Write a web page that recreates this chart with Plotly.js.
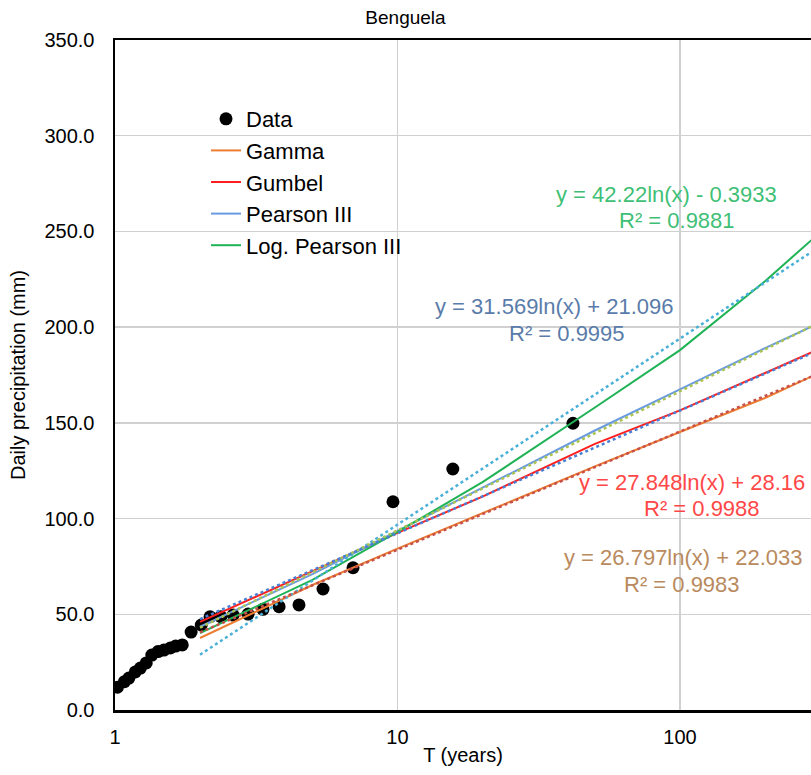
<!DOCTYPE html>
<html>
<head>
<meta charset="utf-8">
<script src="https://cdn.plot.ly/plotly-3.0.1.min.js"></script>
<style>html,body{margin:0;padding:0;background:#fff;}#chart{width:811px;height:775px;}</style>
</head>
<body>
<div id="chart"></div>
<script>
// Observed data (return period T, daily precipitation mm)
const dataT = [1.02, 1.08, 1.12, 1.18, 1.23, 1.29, 1.35, 1.42, 1.49, 1.57, 1.64, 1.73, 1.86, 2.02, 2.17, 2.37, 2.62, 2.96, 3.34, 3.81, 4.48, 5.45, 6.96, 9.64, 15.7, 41.8];
const dataP = [11.9, 14.8, 16.7, 19.9, 21.9, 24.6, 28.7, 30.5, 31.3, 32.4, 33.4, 34.0, 40.7, 44.4, 48.7, 48.7, 49.6, 50.1, 52.6, 54.0, 54.9, 63.2, 74.3, 108.8, 125.9, 149.8];

// Fitted distributions
const fitT = [2, 5, 10, 20, 50, 100, 200, 300];
const gammaP = [37.6, 65.3, 84.3, 102.8, 127.3, 145.2, 163.0, 175.0];
const gumbelP = [46.0, 72.5, 92.5, 111.5, 139.0, 156.5, 176.0, 187.5];
const pearsonP = [43.5, 71.0, 93.5, 116.0, 146.0, 167.5, 189.0, 201.0];
const logPearsonP = [40.2, 68.0, 93.0, 119.0, 158.0, 188.0, 224.0, 247.0];

// Logarithmic trendlines (end points)
const trendT = [2, 300];
const trendLogPearson = [28.9, 240.4];
const trendPearson = [43.0, 201.2];
const trendGumbel = [47.5, 187.0];
const trendGamma = [40.6, 174.9];

// Trendline labels
const labelLogPearson = ["y = 42.22ln(x) - 0.3933", "R² = 0.9881"];
const labelPearson = ["y = 31.569ln(x) + 21.096", "R² = 0.9995"];
const labelGumbel = ["y = 27.848ln(x) + 28.16", "R² = 0.9988"];
const labelGamma = ["y = 26.797ln(x) + 22.033", "R² = 0.9983"];

const yTicks = [0, 50, 100, 150, 200, 250, 300, 350];
const xTicks = [1, 10, 100];
const xTickText = ["1", "10", "100"];

const FONT = "Liberation Sans, Arial, sans-serif";

const traces = [
  {x: dataT, y: dataP, type: "scatter", mode: "markers", name: "Data", legendgroup: "a",
   marker: {color: "#000000", size: 13}},
  {x: fitT, y: gammaP, type: "scatter", mode: "lines", name: "Gamma", legendgroup: "b",
   line: {color: "#ed7d31", width: 2}},
  {x: fitT, y: gumbelP, type: "scatter", mode: "lines", name: "Gumbel", legendgroup: "c",
   line: {color: "#ff1f1f", width: 2}},
  {x: fitT, y: pearsonP, type: "scatter", mode: "lines", name: "Pearson III", legendgroup: "d",
   line: {color: "#6a9be0", width: 2}},
  {x: fitT, y: logPearsonP, type: "scatter", mode: "lines", name: "Log. Pearson III", legendgroup: "e",
   line: {color: "#1fb355", width: 2}},
  {x: trendT, y: trendLogPearson, type: "scatter", mode: "lines", showlegend: false,
   line: {color: "#4bb0d8", width: 2.5, dash: "dot"}},
  {x: trendT, y: trendPearson, type: "scatter", mode: "lines", showlegend: false,
   line: {color: "#a9c452", width: 2.5, dash: "dot"}},
  {x: trendT, y: trendGumbel, type: "scatter", mode: "lines", showlegend: false,
   line: {color: "#4a80d4", width: 2.5, dash: "dot"}},
  {x: trendT, y: trendGamma, type: "scatter", mode: "lines", showlegend: false,
   line: {color: "#c8504a", width: 2.5, dash: "dot"}}
];

// plot area: left 115, right 811, top 40, bottom 710
const px = v => (v - 115) / 696;
const py = v => (710 - v) / 670;
function lab(text, cx, cy, color) {
  return {text: text, x: px(cx), y: py(cy), xref: "paper", yref: "paper",
          xanchor: "center", yanchor: "middle", showarrow: false,
          font: {family: FONT, size: 22, color: color}};
}
const annotations = [
  lab(labelLogPearson[0], 666, 194, "#3fbf76"),
  lab(labelLogPearson[1], 677, 221, "#3fbf76"),
  lab(labelPearson[0], 554, 306, "#5a7caa"),
  lab(labelPearson[1], 567, 333, "#5a7caa"),
  lab(labelGumbel[0], 692, 482, "#ff4747"),
  lab(labelGumbel[1], 702, 509, "#ff4747"),
  lab(labelGamma[0], 683, 557, "#b98a5e"),
  lab(labelGamma[1], 682, 584, "#b98a5e")
];

const layout = {
  width: 811, height: 775,
  margin: {l: 115, r: 0, t: 40, b: 65, pad: 0},
  paper_bgcolor: "#ffffff", plot_bgcolor: "#ffffff",
  font: {family: FONT, color: "#000000"},
  title: {text: "Benguela", font: {family: FONT, size: 19, color: "#000"}, x: px(463), xanchor: "center", y: 1 - 17/775, yanchor: "middle"},
  showlegend: true,
  legend: {x: px(206), y: py(98), xanchor: "left", yanchor: "top", bgcolor: "rgba(0,0,0,0)",
           font: {family: FONT, size: 22, color: "#000"}, tracegroupgap: 5, traceorder: "normal"},
  xaxis: {type: "log", range: [0, Math.log10(291)], tickvals: xTicks, ticktext: xTickText,
          showgrid: true, gridcolor: "#d0d0d0", gridwidth: 1.5,
          showline: true, linecolor: "#000", linewidth: 2.5, mirror: true,
          ticks: "", ticklabelstandoff: 7, tickfont: {family: FONT, size: 20, color: "#000"},
          zeroline: false,
          title: {text: "T (years)", font: {family: FONT, size: 20, color: "#000"}, standoff: 2}},
  yaxis: {range: [0, 350], tickvals: yTicks, tickformat: ".1f",
          showgrid: true, gridcolor: "#d0d0d0", gridwidth: 1.5,
          showline: true, linecolor: "#000", linewidth: 2.5, mirror: false,
          ticks: "", ticklabelstandoff: 14, tickfont: {family: FONT, size: 20, color: "#000"},
          zeroline: false,
          title: {text: "Daily precipitation (mm)", font: {family: FONT, size: 20, color: "#000"}, standoff: 14}},
  annotations: annotations
};

Plotly.newPlot("chart", traces, layout, {displayModeBar: false, staticPlot: true});
</script>
</body>
</html>
